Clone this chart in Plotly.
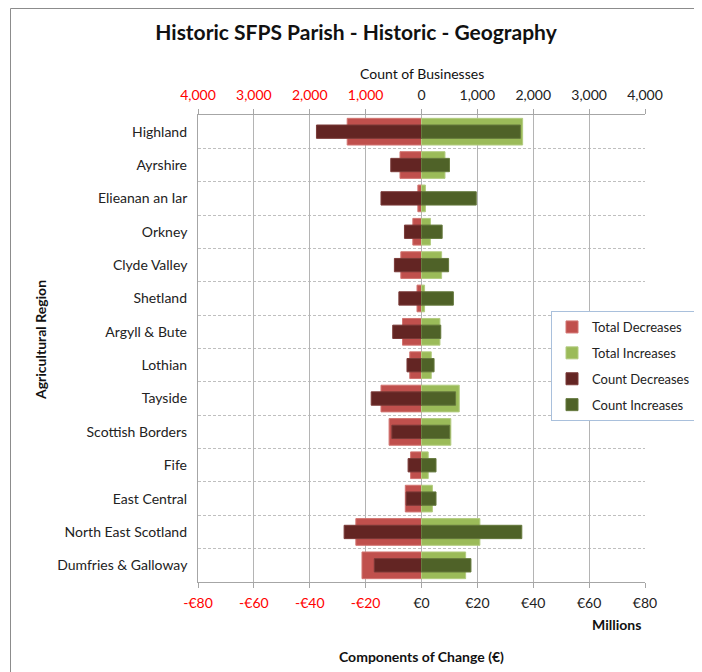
import plotly.graph_objects as go

REGIONS = [
    "Highland", "Ayrshire", "Elieanan an Iar", "Orkney", "Clyde Valley",
    "Shetland", "Argyll & Bute", "Lothian", "Tayside", "Scottish Borders",
    "Fife", "East Central", "North East Scotland", "Dumfries & Galloway",
]
# Millions of euro
TOTAL_DEC = [-26.6, -7.7, -1.3, -3.1, -7.4, -1.6, -6.8, -4.2, -14.5, -11.6, -3.9, -5.8, -23.5, -21.3]
TOTAL_INC = [36.2, 8.4, 1.4, 3.2, 7.2, 1.1, 6.6, 3.5, 13.5, 10.5, 2.4, 3.9, 20.9, 15.8]
# Count of businesses
COUNT_DEC = [-1880, -550, -725, -305, -485, -405, -515, -260, -900, -530, -240, -275, -1385, -845]
COUNT_INC = [1770, 500, 980, 370, 485, 570, 345, 225, 610, 505, 260, 260, 1795, 885]

MONEY_TICKS = [-80, -60, -40, -20, 0, 20, 40, 60, 80]
COUNT_TICKS = [-4000, -3000, -2000, -1000, 0, 1000, 2000, 3000, 4000]

FONT = "Lato"
RED = "#ff0000"

# the page body adds an 8px offset, so the figure is 8px smaller
W, H = 694, 664
L, R, T, B = 190, 57, 107, 90
PW, PH = W - L - R, H - T - B


def money_label(v):
    if v < 0:
        return f"<span style='color:{RED}'>-€{abs(v)}</span>"
    return f"€{v}"


def count_label(v):
    if v < 0:
        return f"<span style='color:{RED}'>{abs(v):,}</span>"
    return f"{v:,}"


fig = go.Figure()

fig.add_trace(go.Bar(
    y=REGIONS, x=TOTAL_DEC, orientation="h", name="Total Decreases",
    marker=dict(color="#C0504D", line=dict(color="#d27572", width=1)),
    width=0.8, xaxis="x", yaxis="y", legendgroup="a",
))
fig.add_trace(go.Bar(
    y=REGIONS, x=TOTAL_INC, orientation="h", name="Total Increases",
    marker=dict(color="#9BBB59", line=dict(color="#b3cc80", width=1)),
    width=0.8, xaxis="x", yaxis="y", legendgroup="b",
))
fig.add_trace(go.Bar(
    y=REGIONS, x=COUNT_DEC, orientation="h", name="Count Decreases",
    marker=dict(color="#632523", line=dict(color="#7a3a38", width=1)),
    width=0.4, xaxis="x2", yaxis="y", legendgroup="c",
))
fig.add_trace(go.Bar(
    y=REGIONS, x=COUNT_INC, orientation="h", name="Count Increases",
    marker=dict(color="#4F6228", line=dict(color="#65793d", width=1)),
    width=0.4, xaxis="x2", yaxis="y", legendgroup="d",
))

fig.update_layout(
    width=W, height=H,
    margin=dict(l=L, r=R, t=T, b=B, autoexpand=False),
    paper_bgcolor="white", plot_bgcolor="white",
    font=dict(family=FONT, size=14, color="#222"),
    barmode="overlay",
    showlegend=True,
    title=dict(
        text="<b>Historic SFPS Parish - Historic - Geography</b>",
        x=348 / W, xanchor="center", y=1 - 25 / H, yanchor="middle",
        font=dict(family=FONT, size=21, color="#111"),
    ),
    xaxis=dict(
        range=[-80, 80], tickvals=MONEY_TICKS,
        ticktext=[money_label(v) for v in MONEY_TICKS],
        showgrid=True, gridcolor="#b4b4b4", gridwidth=1,
        showline=True, linecolor="#a6a6a6", ticks="outside", ticklen=5,
        tickcolor="#a6a6a6", zeroline=False, ticklabelstandoff=3,
        tickfont=dict(size=14, color="#222"), layer="below traces",
    ),
    xaxis2=dict(
        range=[-4000, 4000], tickvals=COUNT_TICKS,
        ticktext=[count_label(v) for v in COUNT_TICKS],
        overlaying="x", side="top", anchor="y",
        showgrid=True, gridcolor="#b4b4b4", gridwidth=1,
        showline=True, linecolor="#a6a6a6",
        ticks="outside", ticklen=5, tickcolor="#a6a6a6", ticklabelstandoff=3,
        zeroline=False, tickfont=dict(size=14, color="#222"),
    ),
    yaxis=dict(
        type="category", autorange="reversed", tickson="boundaries",
        showgrid=True, gridcolor="#bfbfbf", griddash="3px,2px", gridwidth=1,
        showline=True, linecolor="#a6a6a6", ticks="", ticklen=0,
        tickfont=dict(size=14, color="#222"), ticksuffix="  ",
    ),
    legend=dict(
        x=(551 - 8 - L) / PW, y=(PH + T - 303) / PH, xanchor="left", yanchor="top",
        bgcolor="white", bordercolor="#a9c0dc", borderwidth=1,
        font=dict(family=FONT, size=13, color="#222"),
        tracegroupgap=6, traceorder="grouped", itemwidth=30,
    ),
    annotations=[
        dict(text="<b>Agricultural Region</b>", xref="paper", yref="paper",
             x=-158 / PW, y=0.518, textangle=-90, showarrow=False,
             xanchor="center", yanchor="middle",
             font=dict(size=14, color="#111")),
        dict(text="Count of Businesses", xref="paper", yref="paper",
             x=0.5, y=1.0 + 42 / PH, showarrow=False,
             xanchor="center", yanchor="middle",
             font=dict(size=14, color="#111")),
        dict(text="<b>Millions</b>", xref="paper", yref="paper",
             x=0.937, y=-42 / PH, showarrow=False,
             xanchor="center", yanchor="middle",
             font=dict(size=14, color="#111")),
        dict(text="<b>Components of Change (€)</b>", xref="paper", yref="paper",
             x=0.5, y=-74 / PH, showarrow=False,
             xanchor="center", yanchor="middle",
             font=dict(size=14, color="#111")),
    ],
    shapes=[
        dict(type="rect", xref="paper", yref="paper", layer="below",
             x0=(2.5 - L) / PW, x1=(689 - L) / PW,
             y0=-(B + 10) / PH, y1=(PH + T - 0.5) / PH,
             line=dict(color="#8c8c8c", width=1), fillcolor="rgba(0,0,0,0)"),
    ],
)

fig.write_html("out.html")
